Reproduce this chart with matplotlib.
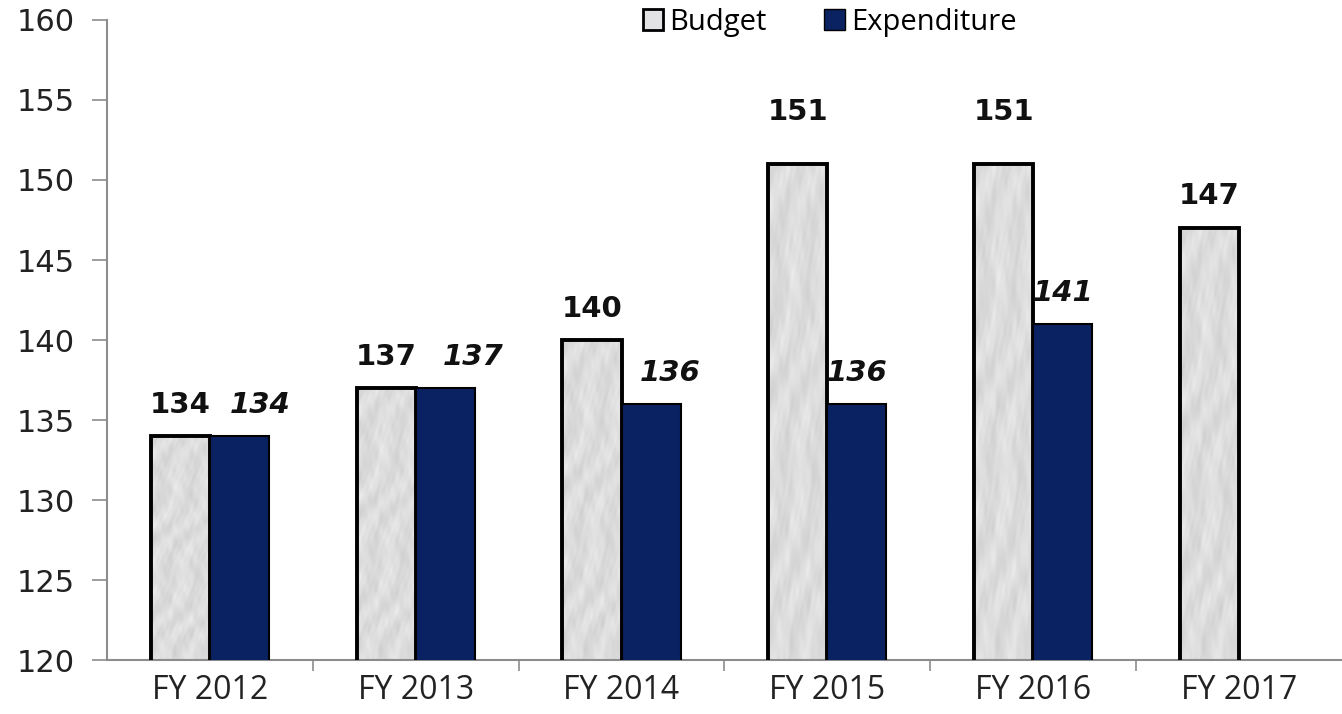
import numpy as np
import matplotlib.pyplot as plt
from matplotlib.patches import Patch

# data
years = ['FY 2012', 'FY 2013', 'FY 2014', 'FY 2015', 'FY 2016', 'FY 2017']
budget = [134, 137, 140, 151, 151, 147]
expenditure = [134, 137, 136, 136, 141, np.nan]

navy = '#0b2262'
edge = '#000000'
axis_grey = '#8c8c8c'

# label nudges (points), the original places some labels off-centre
exp_dx = [15, 20, 14, 0, 0, 0]
bud_dy = [0, 0, 0, 15, 15, 1]

fig = plt.figure(figsize=(13.42, 7.14), dpi=100)
ax = fig.add_axes([0.0797, 0.0756, 0.9203, 0.8964])

x = np.arange(len(years))
w = 0.287

# marble-ish texture for the budget bars (deterministic, just styling)
yy, xx = np.mgrid[0:300, 0:60]
tex = (0.5 * np.sin(xx * 0.21 + yy * 0.09 + np.sin(yy * 0.05) * 2)
       + 0.4 * np.sin(xx * 0.5 - yy * 0.17 + 1.3) * np.sin(yy * 0.04 + xx * 0.1)
       + 0.35 * np.sin(yy * 0.13 + np.sin(xx * 0.3) * 3)
       + 0.25 * np.sin(xx * 1.1 + yy * 0.37) * np.cos(yy * 0.06))
tex = 0.92 - 0.11 * (tex - tex.min()) / (tex.max() - tex.min())

b_bars = ax.bar(x - w / 2, budget, w, color='#e3e3e5', edgecolor='none', zorder=2)
for bar in b_bars:
    x0 = bar.get_x()
    im = ax.imshow(tex, extent=[x0, x0 + bar.get_width(), 120, bar.get_height()],
                   cmap='gray', vmin=0, vmax=1, aspect='auto', zorder=2.5,
                   interpolation='bicubic')
    im.set_clip_path(bar)
ax.bar(x - w / 2, budget, w, facecolor='none', edgecolor=edge, linewidth=2.8, zorder=3)
ax.bar(x + w / 2, expenditure, w, color=navy, edgecolor=edge, linewidth=1.5, zorder=3)

for i, v in enumerate(budget):
    ax.annotate(f'{v}', (x[i] - w / 2, v), xytext=(0, 12 + bud_dy[i]), textcoords='offset points',
                ha='center', va='bottom', fontsize=21, fontweight='bold', color='#111111')
for i, v in enumerate(expenditure):
    if np.isnan(v):
        continue
    ax.annotate(f'{int(v)}', (x[i] + w / 2, v), xytext=(exp_dx[i], 12), textcoords='offset points',
                ha='center', va='bottom', fontsize=21, fontweight='bold', style='italic',
                color='#111111')

ax.set_xlim(-0.5, len(years) - 0.5)
ax.set_ylim(120, 160)
ax.set_yticks(np.arange(120, 161, 5))
ax.tick_params(axis='y', labelsize=22, length=11, color=axis_grey, width=1.2, pad=12,
               labelcolor='#222222')
ax.set_xticks(x)
ax.set_xticklabels(years, fontsize=23, family='Open Sans', color='#222222')
ax.set_xticks(x[:-1] + 0.5, minor=True)
ax.tick_params(axis='x', which='major', length=0, pad=10)
ax.tick_params(axis='x', which='minor', length=8, color=axis_grey, width=1.2)

for s in ['top', 'right']:
    ax.spines[s].set_visible(False)
for s in ['left', 'bottom']:
    ax.spines[s].set_color(axis_grey)
    ax.spines[s].set_linewidth(1.5)

handles = [Patch(facecolor='#e3e3e5', edgecolor=edge, linewidth=2, label='Budget'),
           Patch(facecolor=navy, edgecolor=edge, linewidth=1, label='Expenditure')]
ax.legend(handles=handles, loc='upper center', bbox_to_anchor=(0.585, 1.06), ncol=2,
          frameon=False, prop={'family': 'Open Sans', 'size': 21},
          handlelength=0.7, handleheight=0.7, handletextpad=0.2, columnspacing=2.0)

fig.savefig('out.png', dpi=100)
